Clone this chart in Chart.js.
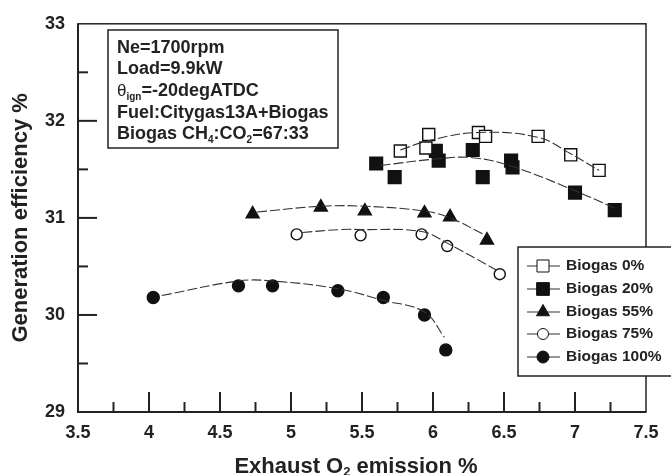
<!DOCTYPE html>
<html>
<head>
<meta charset="utf-8">
<script src="https://cdn.jsdelivr.net/npm/chart.js@4.4.1/dist/chart.umd.min.js"></script>
<style>
  html, body { margin: 0; padding: 0; background: #fff; }
  #wrap { width: 671px; height: 475px; }
</style>
</head>
<body>
<div id="wrap"><canvas id="myChart" width="671" height="475"></canvas></div>
<script>
// measured points (x = exhaust O2 %, y = generation efficiency %)
const bio0X = [5.77, 5.97, 5.95, 6.32, 6.37, 6.74, 6.97, 7.17];
const bio0Y = [31.69, 31.86, 31.72, 31.88, 31.84, 31.84, 31.65, 31.49];
const bio20X = [5.60, 5.73, 6.02, 6.04, 6.28, 6.35, 6.55, 6.56, 7.00, 7.28];
const bio20Y = [31.56, 31.42, 31.69, 31.59, 31.70, 31.42, 31.59, 31.52, 31.26, 31.08];
const bio55X = [4.73, 5.21, 5.52, 5.94, 6.12, 6.38];
const bio55Y = [31.04, 31.11, 31.07, 31.05, 31.01, 30.77];
const bio75X = [5.04, 5.49, 5.92, 6.10, 6.47];
const bio75Y = [30.83, 30.82, 30.83, 30.71, 30.42];
const bio100X = [4.03, 4.63, 4.87, 5.33, 5.65, 5.94, 6.09];
const bio100Y = [30.18, 30.30, 30.30, 30.25, 30.18, 30.00, 29.64];

// trend curves
const fit0X = [5.77, 5.98, 6.32, 6.74, 6.97, 7.17];
const fit0Y = [31.70, 31.80, 31.88, 31.83, 31.66, 31.49];
const fit20X = [5.63, 6.04, 6.28, 6.56, 7.00, 7.28];
const fit20Y = [31.54, 31.61, 31.62, 31.53, 31.28, 31.10];
const fit55X = [4.76, 5.21, 5.52, 5.94, 6.12, 6.37];
const fit55Y = [31.06, 31.12, 31.12, 31.07, 31.00, 30.82];
const fit75X = [5.08, 5.35, 5.49, 5.92, 6.10, 6.45];
const fit75Y = [30.85, 30.88, 30.88, 30.86, 30.74, 30.46];
const fit100X = [4.09, 4.63, 4.87, 5.33, 5.65, 5.94, 6.08];
const fit100Y = [30.20, 30.35, 30.35, 30.27, 30.15, 30.03, 29.77];

const seriesNames = ["Biogas 0%", "Biogas 20%", "Biogas 55%", "Biogas 75%", "Biogas 100%"];
const xTicks = [3.5, 4, 4.5, 5, 5.5, 6, 6.5, 7, 7.5];
const yTicks = [29, 30, 31, 32, 33];

const pts = (xs, ys) => xs.map((x, i) => ({ x: x, y: ys[i] }));

const markers = [
  { style: "rect", r: 8.5, fill: "#fff" },
  { style: "rect", r: 9, fill: "#111" },
  { style: "triangle", r: 7.5, fill: "#111" },
  { style: "circle", r: 5.5, fill: "#fff" },
  { style: "circle", r: 6, fill: "#111" },
];

const rawSets = [[bio0X, bio0Y], [bio20X, bio20Y], [bio55X, bio55Y], [bio75X, bio75Y], [bio100X, bio100Y]];
const fitSets = [[fit0X, fit0Y], [fit20X, fit20Y], [fit55X, fit55Y], [fit75X, fit75Y], [fit100X, fit100Y]];

const datasets = [];
fitSets.forEach((s) => {
  datasets.push({
    data: pts(s[0], s[1]),
    showLine: true,
    borderColor: "#333",
    borderWidth: 1.1,
    borderDash: [10, 3],
    tension: 0.4,
    pointRadius: 0,
    fill: false,
  });
});
rawSets.forEach((s, i) => {
  datasets.push({
    label: seriesNames[i],
    data: pts(s[0], s[1]),
    showLine: false,
    pointStyle: markers[i].style,
    pointRadius: markers[i].r,
    pointBackgroundColor: markers[i].fill,
    pointBorderColor: "#111",
    pointBorderWidth: 1.4,
  });
});

const font = "'Liberation Sans', Arial, sans-serif";

const decor = {
  id: "decor",
  afterDraw(chart) {
    const ctx = chart.ctx;
    const a = chart.chartArea;
    const xs = chart.scales.x, ys = chart.scales.y;
    ctx.save();
    // frame
    ctx.strokeStyle = "#222";
    ctx.lineWidth = 1.5;
    ctx.strokeRect(a.left, a.top, a.right - a.left, a.bottom - a.top);
    ctx.lineWidth = 2;
    ctx.beginPath();
    ctx.moveTo(a.left, a.top); ctx.lineTo(a.left, a.bottom); ctx.lineTo(a.right, a.bottom);
    ctx.stroke();
    // inward ticks
    ctx.lineWidth = 2;
    for (let v = 29.5; v < 33; v += 0.5) {
      const py = ys.getPixelForValue(v);
      const len = Number.isInteger(v) ? 19 : 10;
      ctx.beginPath(); ctx.moveTo(a.left, py); ctx.lineTo(a.left + len, py); ctx.stroke();
    }
    for (let v = 3.75; v < 7.5; v += 0.25) {
      const px = xs.getPixelForValue(v);
      const len = Math.abs(v * 2 - Math.round(v * 2)) < 1e-6 ? 20 : 10;
      ctx.beginPath(); ctx.moveTo(px, a.bottom); ctx.lineTo(px, a.bottom - len); ctx.stroke();
    }

    // x title with subscript
    ctx.fillStyle = "#222";
    ctx.textBaseline = "alphabetic";
    const big = "bold 22px " + font, sub = "bold 13px " + font;
    const p1 = "Exhaust O", p2 = "2", p3 = " emission %";
    ctx.font = big; const w1 = ctx.measureText(p1).width, w3 = ctx.measureText(p3).width;
    ctx.font = sub; const w2 = ctx.measureText(p2).width;
    let tx = 356 - (w1 + w2 + w3) / 2;
    const ty = 473;
    ctx.font = big; ctx.fillText(p1, tx, ty); tx += w1;
    ctx.font = sub; ctx.fillText(p2, tx, ty + 3); tx += w2;
    ctx.font = big; ctx.fillText(p3, tx, ty);

    // condition box
    ctx.fillStyle = "#fff";
    ctx.fillRect(108, 30, 230, 118);
    ctx.lineWidth = 1.5;
    ctx.strokeStyle = "#222";
    ctx.strokeRect(108, 30, 230, 118);
    ctx.fillStyle = "#222";
    const bold = "bold 18px " + font, small = "bold 10px " + font, thin = "17px " + font;
    const lx = 117;
    const runs = (y, parts) => {
      let x = lx;
      parts.forEach((p) => {
        ctx.font = p[1];
        ctx.fillText(p[0], x, y + (p[2] || 0));
        x += ctx.measureText(p[0]).width;
      });
    };
    runs(53, [["Ne=1700rpm", bold]]);
    runs(74, [["Load=9.9kW", bold]]);
    runs(96, [["\u03b8", thin], ["ign", small, 4], ["=-20degATDC", bold]]);
    runs(118, [["Fuel:Citygas13A+Biogas", bold]]);
    runs(139, [["Biogas CH", bold], ["4", small, 4], [":CO", bold], ["2", small, 4], ["=67:33", bold]]);

    // legend
    ctx.fillStyle = "#fff";
    ctx.fillRect(518, 247, 160, 129);
    ctx.strokeStyle = "#222";
    ctx.lineWidth = 1.5;
    ctx.strokeRect(518, 247, 160, 129);
    const rowY = [266, 289, 312, 334, 357];
    seriesNames.forEach((name, i) => {
      const y = rowY[i];
      ctx.strokeStyle = "#333";
      ctx.lineWidth = 1;
      ctx.beginPath(); ctx.moveTo(527, y); ctx.lineTo(560, y); ctx.stroke();
      const m = markers[i];
      ctx.fillStyle = m.fill;
      ctx.strokeStyle = "#111";
      Chart.helpers.drawPoint(ctx, { pointStyle: m.style, radius: m.r, borderWidth: 1.4 }, 543, y);
      ctx.fillStyle = "#222";
      ctx.font = "bold 15.5px " + font;
      ctx.textBaseline = "middle";
      ctx.fillText(name, 566, y);
      ctx.textBaseline = "alphabetic";
    });
    ctx.restore();
  },
};

const ctx = document.getElementById("myChart").getContext("2d");
const myChart = new Chart(ctx, {
  type: "scatter",
  data: { datasets: datasets },
  options: {
    responsive: false,
    animation: false,
    layout: { padding: { left: 0, top: 22, right: 25, bottom: 0 } },
    plugins: { legend: { display: false }, tooltip: { enabled: false } },
    scales: {
      x: {
        type: "linear",
        min: 3.5,
        max: 7.5,
        afterBuildTicks: (s) => { s.ticks = xTicks.map((v) => ({ value: v })); },
        afterFit: (s) => { s.height = 63; },
        grid: { display: false, drawTicks: false },
        border: { display: false },
        ticks: {
          padding: 10,
          color: "#222",
          font: { family: font, size: 18, weight: "bold" },
          maxRotation: 0,
          callback: (v) => String(v),
        },
      },
      y: {
        type: "linear",
        min: 29,
        max: 33,
        afterBuildTicks: (s) => { s.ticks = yTicks.map((v) => ({ value: v })); },
        afterFit: (s) => { s.width = 78; },
        grid: { display: false, drawTicks: false },
        border: { display: false },
        ticks: {
          padding: 13,
          color: "#222",
          font: { family: font, size: 18, weight: "bold" },
          callback: (v) => String(v),
        },
        title: {
          display: true,
          text: "Generation efficiency %",
          color: "#222",
          font: { family: font, size: 22, weight: "bold" },
          padding: { top: 8, bottom: 0 },
        },
      },
    },
  },
  plugins: [decor],
});
</script>
</body>
</html>
